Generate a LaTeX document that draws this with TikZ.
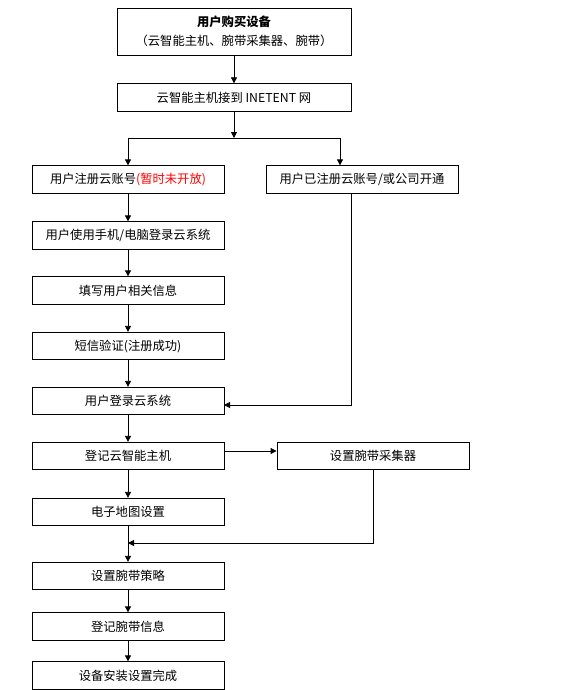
\documentclass[tikz,border=0pt]{standalone}
\usepackage{fontspec}
\setmainfont{Noto Sans CJK SC}
\usetikzlibrary{arrows.meta}

\begin{document}
\begin{tikzpicture}[x=1pt, y=-1pt, line width=0.8pt, >={Triangle[length=6pt,width=6pt]},
  box/.style={draw, minimum width=192pt, minimum height=27.5pt, inner sep=0pt, font=\fontsize{12.3}{19}\selectfont}]
\useasboundingbox (0,0) rectangle (563,690);
\node[box, minimum width=234pt, minimum height=47pt, align=center] (v0) at (234,31.5) {\textbf{用户购买设备}\\（云智能主机、腕带采集器、腕带）};
\node[box, minimum width=234pt] (v1) at (234,97.5) {云智能主机接到 INETENT 网};
\coordinate (c0) at (234,138);
\coordinate (c1) at (128,138);
\coordinate (c2) at (340,138);
\node[box] (v2) at (128,179.5) {用户注册云账号\textcolor{red}{(暂时未开放)}};
\node[box] (v3) at (362,179.5) {用户已注册云账号/或公司开通};
\node[box] (v4) at (128,235.5) {用户使用手机/电脑登录云系统};
\node[box] (v5) at (128,290.5) {填写用户相关信息};
\node[box] (v6) at (128,346) {短信验证(注册成功)};
\node[box] (v7) at (128,401) {用户登录云系统};
\node[box] (v8) at (128,456) {登记云智能主机};
\node[box] (v9) at (373,456) {设置腕带采集器};
\node[box] (v10) at (128,512) {电子地图设置};
\node[box] (v11) at (128,576) {设置腕带策略};
\node[box] (v12) at (128,626.5) {登记腕带信息};
\node[box] (v13) at (128,675.5) {设备安装设置完成};
\coordinate (c3) at (351,193);
\coordinate (c4) at (224,405);
\coordinate (c5) at (128,543);
\draw [->] (v0) -- (v1);
\draw [->] (v1) -- (c0);
\draw (c1) -- (c2);
\draw [->] (c1) -- (v2);
\draw [->] (c2) -- (c2 |- v3.north);
\draw [->] (v2) -- (v4);
\draw [->] (v4) -- (v5);
\draw [->] (v5) -- (v6);
\draw [->] (v6) -- (v7);
\draw [->] (c3) |- (c4);
\draw [->] (v7) -- (v8);
\draw [->] ([yshift=5pt]v8.east) -- ([yshift=5pt]v9.west);
\draw [->] (v8) -- (v10);
\draw [->] (v9) |- (c5);
\draw [->] (v10) -- (v11);
\draw [->] (v11) -- (v12);
\draw [->] (v12) -- (v13);
\end{tikzpicture}
\end{document}
